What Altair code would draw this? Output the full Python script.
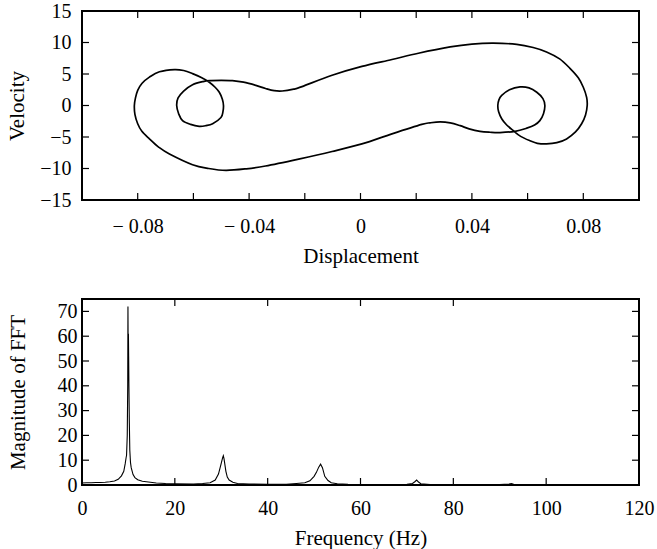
import altair as alt
import pandas as pd

# ---- Phase portrait (displacement, velocity) in trajectory order
disp = [-0.0660, -0.0655, -0.0635, -0.0603, -0.0565, -0.0537, -0.0500, -0.0460, -0.0420, -0.0376,
        -0.0341, -0.0310, -0.0281, -0.0240, -0.0210, -0.0102, 0.0005, 0.0113, 0.0208, 0.0322,
        0.0400, 0.0477, 0.0561, 0.0620, 0.0668, 0.0715, 0.0752, 0.0782, 0.0800, 0.0812,
        0.0814, 0.0808, 0.0794, 0.0772, 0.0740, 0.0705, 0.0668, 0.0635, 0.0609, 0.0575,
        0.0549, 0.0525, 0.0507, 0.0496, 0.0493, 0.0497, 0.0507, 0.0535, 0.0573, 0.0605,
        0.0633, 0.0655, 0.0662, 0.0657, 0.0644, 0.0625, 0.0597, 0.0555, 0.0501, 0.0465,
        0.0429, 0.0390, 0.0358, 0.0322, 0.0286, 0.0250, 0.0220, 0.0113, 0.0005, -0.0102,
        -0.0222, -0.0341, -0.0410, -0.0483, -0.0545, -0.0603, -0.0686, -0.0725, -0.0758, -0.0785,
        -0.0800, -0.0810, -0.0812, -0.0808, -0.0800, -0.0785, -0.0758, -0.0722, -0.0668, -0.0635,
        -0.0603, -0.0570, -0.0543, -0.0522, -0.0507, -0.0496, -0.0492, -0.0494, -0.0501, -0.0531,
        -0.0555, -0.0579, -0.0610, -0.0639, -0.0653]
vel = [0.0, 1.2, 2.3, 3.3, 3.8, 3.95, 4.0, 3.95, 3.7, 3.2,
       2.7, 2.35, 2.3, 2.6, 3.0, 4.8, 6.2, 7.3, 8.3, 9.3,
       9.75, 9.9, 9.7, 9.2, 8.5, 7.4, 5.9, 4.4, 2.9, 1.3,
       0.0, -1.5, -2.9, -4.2, -5.3, -5.9, -6.1, -6.0, -5.6, -4.9,
       -4.0, -3.1, -2.1, -1.0, 0.0, 0.9, 1.6, 2.5, 2.95, 2.8,
       2.1, 1.1, 0.0, -1.3, -2.4, -3.1, -3.6, -4.1, -4.3, -4.25,
       -4.1, -3.7, -3.2, -2.75, -2.6, -2.75, -3.0, -4.5, -6.1, -7.3,
       -8.5, -9.6, -10.05, -10.3, -10.0, -9.4, -7.7, -6.6, -5.3, -4.1,
       -2.9, -1.4, 0.0, 1.2, 2.4, 3.5, 4.5, 5.35, 5.7, 5.55,
       5.06, 4.4, 3.7, 2.9, 2.1, 1.0, 0.0, -1.0, -1.9, -2.9,
       -3.2, -3.3, -3.0, -2.4, -1.3]

# ---- FFT magnitude spectrum
freq = [0, 1, 2, 3, 4, 5, 6, 7, 7.8, 8.5, 9.0, 9.3, 9.5, 9.6, 9.75, 9.85, 9.9, 9.95, 10.0, 10.05,
        10.1, 10.2, 10.3, 10.45, 10.6, 11.0, 11.4, 12, 13, 14.3, 16, 18, 20, 24, 26, 27.6, 28.7,
        29.4, 29.9, 30.3, 30.45, 30.6, 31.0, 31.3, 31.7, 32.5, 33.5, 36, 40, 44, 46.2, 48, 49.1,
        50, 50.5, 51, 51.4, 51.8, 52.3, 53, 53.7, 55, 57.3, 60, 65, 70, 71.2, 71.7, 72.1, 72.5,
        73, 75, 80, 90, 92, 92.5, 93, 95, 105, 120]
mag = [0.8, 0.9, 0.9, 1.0, 1.0, 1.1, 1.3, 1.6, 2.3, 3.7, 5.5, 8.5, 11, 12, 20, 40, 72, 52, 61, 52,
       41, 25, 14, 9, 7, 4.2, 3.0, 2.1, 1.5, 1.2, 0.8, 0.6, 0.5, 0.4, 0.6, 0.9, 2.0,
       4.4, 8, 11, 11.8, 10.5, 5.5, 3.2, 2.0, 1.1, 0.6, 0.4, 0.3, 0.3, 0.6, 0.9, 1.7,
       3.5, 5.1, 7.2, 8.4, 7, 3.5, 1.8, 0.9, 0.5, 0.3, 0.2, 0.2, 0.3, 0.6, 1.3, 2.0, 1.2,
       0.5, 0.2, 0.1, 0.15, 0.4, 0.6, 0.3, 0.1, 0.1, 0.1]

# ---- axis ticks / labels
top_x_ticks = [-0.08, -0.06, -0.04, -0.02, 0, 0.02, 0.04, 0.06, 0.08]
top_x_labels = [-0.08, -0.04, 0, 0.04, 0.08]
top_y_ticks = [-10, -5, 0, 5, 10]
top_y_labels = [-15, -10, -5, 0, 5, 10, 15]
bot_x_ticks = [20, 40, 60, 80, 100]
bot_x_ticks_upper = [20, 40, 60, 80]
bot_x_labels = [0, 20, 40, 60, 80, 100, 120]
bot_y_ticks = [10, 20, 30, 40, 50, 60, 70]
bot_y_labels = [0, 10, 20, 30, 40, 50, 60, 70]

W = 557
H1 = 189
H2 = 186
TL = 7
FONT = "Liberation Serif"

phase = pd.DataFrame({"i": list(range(len(disp))), "x": disp, "v": vel})
fft = pd.DataFrame({"f": freq, "m": mag})

xs1 = alt.Scale(domain=[-0.1, 0.1], nice=False, zero=False)
ys1 = alt.Scale(domain=[-15, 15], nice=False, zero=False)
xs2 = alt.Scale(domain=[0, 120], nice=False)
ys2 = alt.Scale(domain=[0, 75], nice=False)

x_lab_expr = ("datum.value < 0 ? '\u2212 ' + format(-datum.value, '.2f') : "
              "(datum.value == 0 ? '0' : format(datum.value, '.2f'))")
y_lab_expr = "datum.value < 0 ? '\u2212' + format(-datum.value, 'd') : format(datum.value, 'd')"

ax_common = dict(labelOverlap=False, labelFlush=False, labelBound=False, tickCount=50)

top_line = alt.Chart(phase).mark_line(
    color="black", strokeWidth=1.7, interpolate="cardinal-closed"
).encode(
    x=alt.X("x:Q", scale=xs1, axis=alt.Axis(values=top_x_labels, labelExpr=x_lab_expr,
                                            title="Displacement", labelPadding=16, titlePadding=9,
                                            **ax_common)),
    y=alt.Y("v:Q", scale=ys1, axis=alt.Axis(values=top_y_labels, labelExpr=y_lab_expr,
                                            title="Velocity", labelPadding=11, titlePadding=12,
                                            **ax_common)),
    order="i:Q",
)

tx = pd.DataFrame({"x": top_x_ticks})
ty = pd.DataFrame({"v": top_y_ticks})
rule = dict(color="black", strokeWidth=1.2)
top_tb = alt.Chart(tx).mark_rule(**rule).encode(x=alt.X("x:Q", scale=xs1), y=alt.value(H1), y2=alt.value(H1 - TL))
top_tt = alt.Chart(tx).mark_rule(**rule).encode(x=alt.X("x:Q", scale=xs1), y=alt.value(0), y2=alt.value(TL))
top_tl = alt.Chart(ty).mark_rule(**rule).encode(y=alt.Y("v:Q", scale=ys1), x=alt.value(0), x2=alt.value(TL))
top_tr = alt.Chart(ty).mark_rule(**rule).encode(y=alt.Y("v:Q", scale=ys1), x=alt.value(W), x2=alt.value(W - TL))

top = alt.layer(top_line, top_tb, top_tt, top_tl, top_tr).properties(width=W, height=H1)

bot_line = alt.Chart(fft).mark_line(color="black", strokeWidth=1.1).encode(
    x=alt.X("f:Q", scale=xs2, axis=alt.Axis(values=bot_x_labels, format="d",
                                            title="Frequency (Hz)", labelPadding=13, titlePadding=9,
                                            **ax_common)),
    y=alt.Y("m:Q", scale=ys2, axis=alt.Axis(values=bot_y_labels, format="d",
                                            title="Magnitude of FFT", labelPadding=5, titlePadding=29,
                                            **ax_common)),
)
bx = pd.DataFrame({"f": bot_x_ticks})
bxu = pd.DataFrame({"f": bot_x_ticks_upper})
by = pd.DataFrame({"m": bot_y_ticks})
bot_tb = alt.Chart(bx).mark_rule(**rule).encode(x=alt.X("f:Q", scale=xs2), y=alt.value(H2), y2=alt.value(H2 - TL))
bot_tt = alt.Chart(bxu).mark_rule(**rule).encode(x=alt.X("f:Q", scale=xs2), y=alt.value(0), y2=alt.value(TL))
bot_tl = alt.Chart(by).mark_rule(**rule).encode(y=alt.Y("m:Q", scale=ys2), x=alt.value(0), x2=alt.value(TL))
bot_tr = alt.Chart(by).mark_rule(**rule).encode(y=alt.Y("m:Q", scale=ys2), x=alt.value(W), x2=alt.value(W - TL))

bot = alt.layer(bot_line, bot_tb, bot_tt, bot_tl, bot_tr).properties(width=W, height=H2)

chart = alt.vconcat(top, bot, spacing=30).properties(
    padding={"left": 5, "top": 0, "right": 0, "bottom": 0},
    background="white",
).configure_view(
    stroke="black", strokeWidth=2
).configure_axis(
    ticks=False, domain=False, grid=False,
    labelOverlap=False, labelFlush=False, labelBound=False,
    labelFont=FONT, labelFontSize=20, labelColor="black",
    titleFont=FONT, titleFontSize=21, titleColor="black", titleFontWeight="normal",
)

chart.save("out.html", embed_options={"renderer": "svg", "actions": False})
